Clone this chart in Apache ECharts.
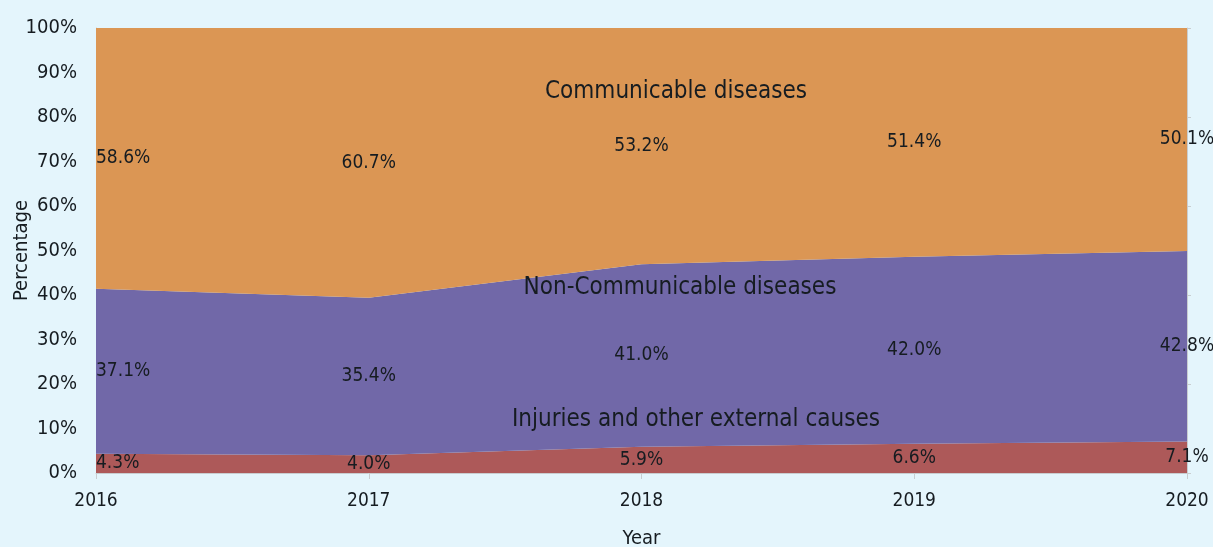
<!DOCTYPE html>
<html>
<head>
<meta charset="utf-8">
<script src="https://cdn.jsdelivr.net/npm/echarts@6/dist/echarts.min.js"></script>
<style>
html,body{margin:0;padding:0;background:#e4f5fc;}
#c{width:1213px;height:547px;}
</style>
</head>
<body>
<div id="c"></div>
<script>
const years = ['2016','2017','2018','2019','2020'];
const injuries = [4.3, 4.0, 5.9, 6.6, 7.1];
const nonCommunicable = [37.1, 35.4, 41.0, 42.0, 42.8];
const communicable = [58.6, 60.7, 53.2, 51.4, 50.1];
const yTicks = [0,10,20,30,40,50,60,70,80,90,100];

const FONT = "'DejaVu Sans Condensed', 'Liberation Sans Narrow', 'Liberation Sans', sans-serif";
const TXT = '#161c21';

const layers = [injuries, nonCommunicable, communicable];
const names = ['Injuries and other external causes','Non-Communicable diseases','Communicable diseases'];
const colors = ['#ad5959','#7168a8','#db9654'];

// label points at band mid-heights
const labelData = [];
years.forEach((y, i) => {
  let base = 0;
  layers.forEach(arr => {
    const v = arr[i];
    const d = {value: [i, base + v / 2], text: v.toFixed(1) + '%'};
    if (i === 0) d.label = {align: 'left'};
    labelData.push(d);
    base += v;
  });
});

const series = layers.map((arr, k) => ({
  name: names[k],
  type: 'line',
  stack: 'total',
  data: arr,
  symbol: 'none',
  lineStyle: {width: 0},
  areaStyle: {color: colors[k], opacity: 1},
  itemStyle: {color: colors[k]},
  z: 2
}));
series.push({
  type: 'scatter',
  data: labelData,
  symbolSize: 0,
  silent: true,
  z: 5,
  itemStyle: {opacity: 1},
  label: {
    show: true,
    position: 'inside',
    formatter: p => p.data.text,
    fontFamily: FONT,
    fontSize: 19,
    color: TXT,
    opacity: 1
  }
});

const chart = echarts.init(document.getElementById('c'), null, {renderer: 'canvas'});
chart.setOption({
  backgroundColor: '#e4f5fc',
  animation: false,
  grid: {left: 96, right: 26, top: 28, bottom: 74, containLabel: false, outerBoundsMode: 'none'},
  xAxis: {
    type: 'category',
    data: years,
    boundaryGap: false,
    name: 'Year',
    nameLocation: 'middle',
    nameGap: 56,
    nameMoveOverlap: false,
    nameTextStyle: {fontFamily: FONT, fontSize: 20, color: TXT},
    axisLine: {show: true, lineStyle: {color: '#c8cdd0', width: 1}},
    axisTick: {show: true, length: 6, lineStyle: {color: '#c8cdd0'}},
    axisLabel: {fontFamily: FONT, fontSize: 19, color: TXT, margin: 19},
    splitLine: {show: false}
  },
  yAxis: [{
    type: 'value',
    min: 0, max: 100, interval: 10,
    name: 'Percentage',
    nameLocation: 'middle',
    nameGap: 64,
    nameMoveOverlap: false,
    nameTextStyle: {fontFamily: FONT, fontSize: 20, color: TXT},
    axisLine: {show: true, lineStyle: {color: '#c8cdd0', width: 1}},
    axisTick: {show: false},
    axisLabel: {fontFamily: FONT, fontSize: 20, color: TXT, margin: 19,
      formatter: v => yTicks.includes(v) ? v + '%' : ''},
    splitLine: {show: false}
  }, {
    type: 'value',
    position: 'right',
    min: 0, max: 100, interval: 20,
    axisLine: {show: true, lineStyle: {color: '#c8cdd0', width: 1}},
    axisTick: {show: true, length: 4, lineStyle: {color: '#c8cdd0'}},
    axisLabel: {show: false},
    splitLine: {show: false}
  }],
  series: series,
  graphic: [
    {type: 'text', z: 10, style: {text: 'Communicable diseases', font: '24px ' + FONT, fill: TXT, textAlign: 'center', textVerticalAlign: 'middle', x: 676, y: 92}},
    {type: 'text', z: 10, style: {text: 'Non-Communicable diseases', font: '24px ' + FONT, fill: TXT, textAlign: 'center', textVerticalAlign: 'middle', x: 680, y: 288}},
    {type: 'text', z: 10, style: {text: 'Injuries and other external causes', font: '24px ' + FONT, fill: TXT, textAlign: 'center', textVerticalAlign: 'middle', x: 696, y: 420}}
  ]
});
</script>
</body>
</html>
